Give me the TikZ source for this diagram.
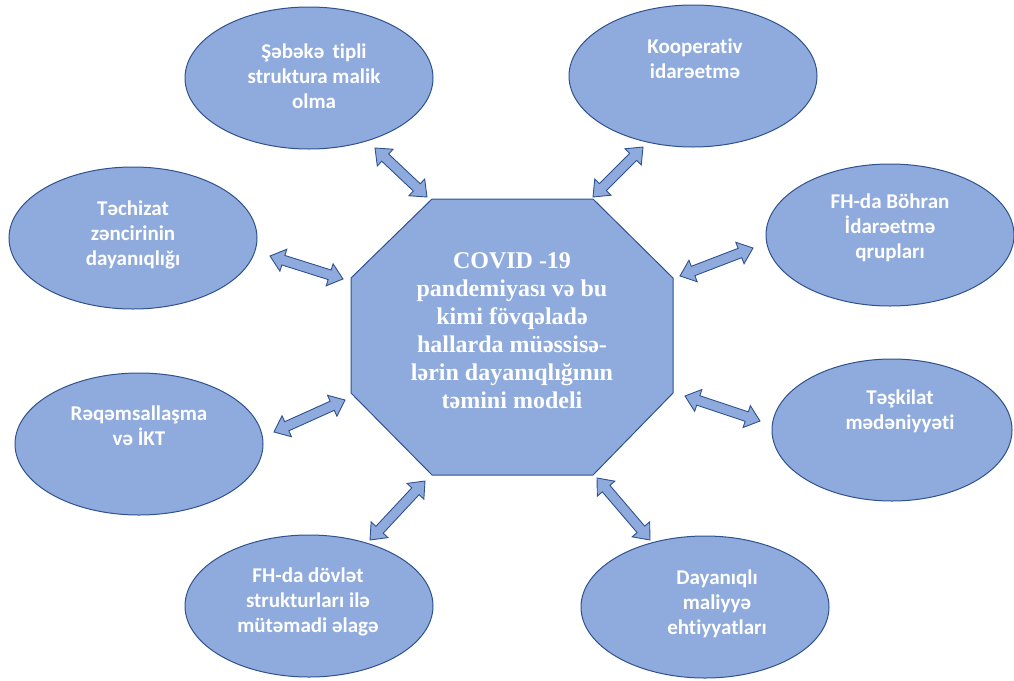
\documentclass[tikz,border=0pt]{standalone}
\usepackage{fontspec}
\setmainfont{Liberation Serif}
\newfontfamily\calfont[Ligatures=NoCommon]{Carlito}
\usetikzlibrary{calc,shapes.geometric}
\definecolor{shapefill}{HTML}{8FAADC}
\definecolor{shapeline}{HTML}{2F528F}
\tikzset{
  bubble/.style={ellipse, draw=shapeline, fill=shapefill, line width=1pt,
    minimum width=248pt, minimum height=142pt, inner sep=0pt},
  bubbletext/.style={align=center, text=white, inner sep=0pt,
    font=\calfont\bfseries\fontsize{21}{25}\selectfont},
  coretext/.style={align=center, text=white, inner sep=0pt,
    font=\bfseries\fontsize{24}{28}\selectfont},
  octagonbox/.style={draw=shapeline, fill=shapefill, line width=1pt, line join=miter},
  blockarrow/.style={draw=shapeline, fill=shapefill, line width=0.9pt, line join=miter},
}
\newcommand\twowayarrow[2]{%
  \draw[blockarrow] let \p1=($(#2)-(#1)$), \n1={atan2(\y1,\x1)},
      \n2={veclen(\x1,\y1)-14}, \n3={\n1+90}, \n4={\n1-90} in
    (#1) -- ($(#1)+(\n1:14)+(\n3:11.5)$) -- ($(#1)+(\n1:14)+(\n3:5)$)
    -- ($(#1)+(\n1:\n2)+(\n3:5)$) -- ($(#1)+(\n1:\n2)+(\n3:11.5)$) -- (#2)
    -- ($(#1)+(\n1:\n2)+(\n4:11.5)$) -- ($(#1)+(\n1:\n2)+(\n4:5)$)
    -- ($(#1)+(\n1:14)+(\n4:5)$) -- ($(#1)+(\n1:14)+(\n4:11.5)$) -- cycle;}
\begin{document}
\begin{tikzpicture}[x=1pt,y=1pt]
\useasboundingbox (0,0) rectangle (1014,-680);
% central octagon
\draw[octagonbox] (432,-199) -- (593,-199) -- (673,-278) -- (673,-393)
  -- (593,-475) -- (432,-475) -- (351,-393) -- (351,-278) -- cycle;
\node[coretext] (core) at (512,-331) {COVID -19\\pandemiyası və bu\\kimi fövqəladə\\hallarda müəssisə-\\lərin dayanıqlığının\\təmini modeli};
% ellipses
\node[bubble] (seb) at (309,-78) {};
\node[bubbletext] (sebt) at (314,-76) {Şəbəkə\, tipli\\struktura malik\\olma};
\node[bubble] (koop) at (693,-76) {};
\node[bubbletext] (koopt) at (695,-59) {Kooperativ\\idarəetmə};
\node[bubble] (tech) at (133,-238) {};
\node[bubbletext] (techt) at (133,-235) {Təchizat\\zəncirinin\\dayanıqlığı};
\node[bubble] (bohr) at (890,-235) {};
\node[bubbletext] (bohrt) at (890,-228) {FH-da Böhran\\İdarəetmə\\qrupları};
\node[bubble] (reqe) at (139,-444) {};
\node[bubbletext] (reqet) at (139,-426) {Rəqəmsallaşma\\və İKT};
\node[bubble, minimum width=240pt] (task) at (892,-430) {};
\node[bubbletext] (taskt) at (900,-411) {Təşkilat\\mədəniyyəti};
\node[bubble] (dovl) at (309,-606) {};
\node[bubbletext] (dovlt) at (308,-602) {FH-da dövlət\\strukturları ilə\\mütəmadi əlagə};
\node[bubble] (daya) at (705,-607) {};
\node[bubbletext] (dayat) at (717,-604) {Dayanıqlı\\maliyyə\\ehtiyyatları};
% arrow end points
\coordinate (a1s) at (375,-148); \coordinate (a1e) at (427,-197);
\coordinate (a2s) at (643,-147); \coordinate (a2e) at (593,-197);
\coordinate (a3s) at (270,-256); \coordinate (a3e) at (343,-279);
\coordinate (a4s) at (274,-432); \coordinate (a4e) at (345,-400);
\coordinate (a5s) at (370,-540); \coordinate (a5e) at (425,-481);
\coordinate (a6s) at (597,-478); \coordinate (a6e) at (650,-540);
\coordinate (a7s) at (685,-396); \coordinate (a7e) at (760,-421);
\coordinate (a8s) at (680,-276); \coordinate (a8e) at (753,-248);
\twowayarrow{a1s}{a1e}
\twowayarrow{a2s}{a2e}
\twowayarrow{a3s}{a3e}
\twowayarrow{a4s}{a4e}
\twowayarrow{a5s}{a5e}
\twowayarrow{a6s}{a6e}
\twowayarrow{a7s}{a7e}
\twowayarrow{a8s}{a8e}
\end{tikzpicture}
\end{document}
